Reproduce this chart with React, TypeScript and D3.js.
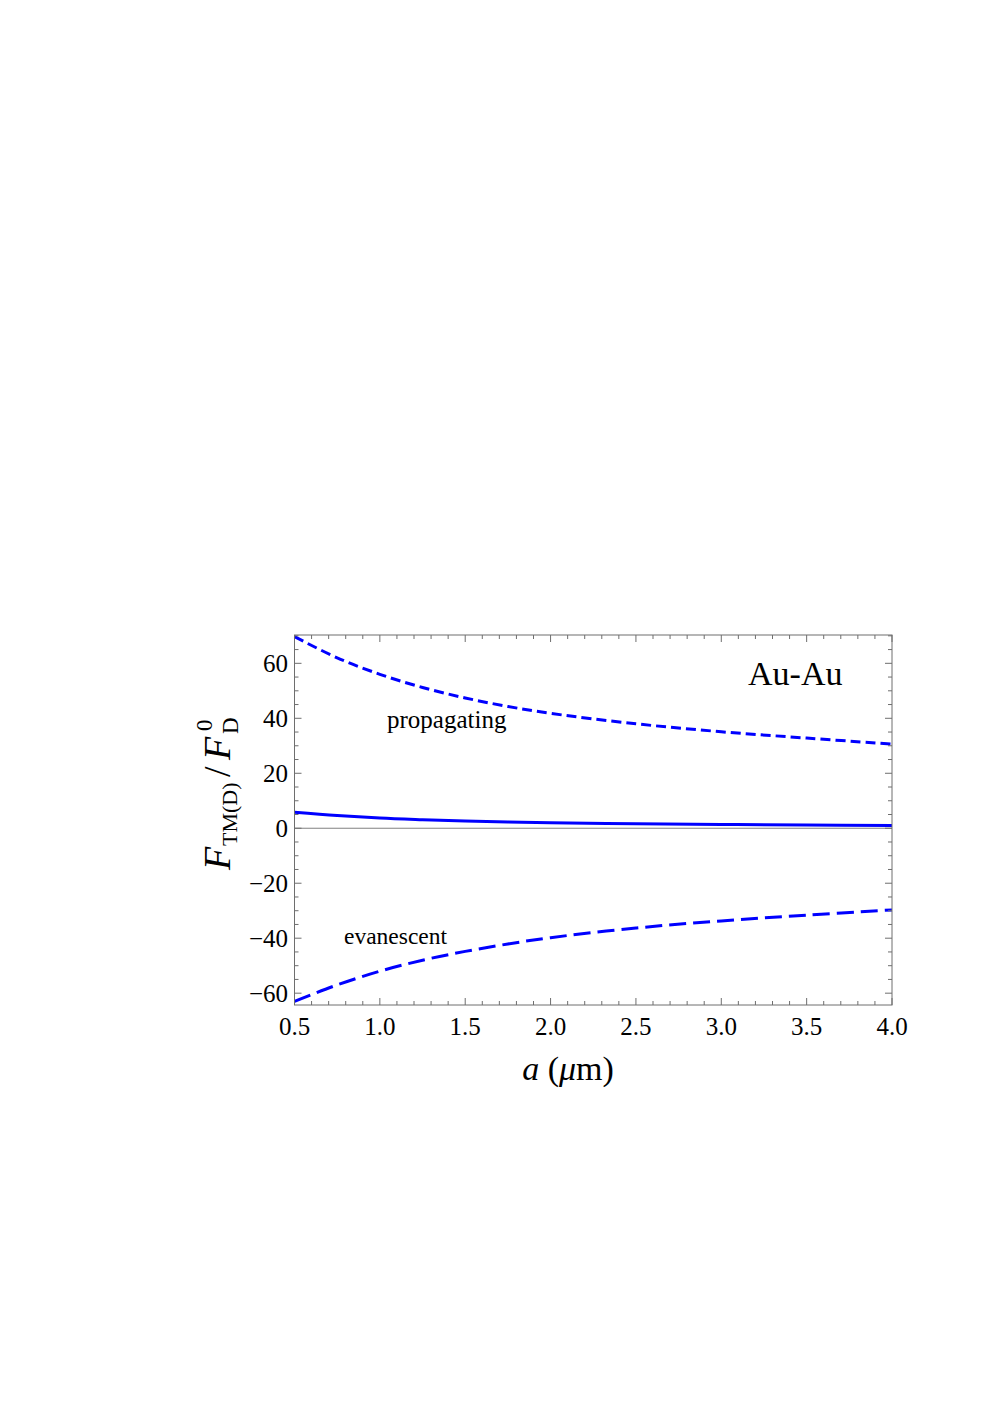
import React from 'react'
import * as d3 from 'd3'

// distance a in micrometres
const aValues = [0.5, 0.75, 1.0, 1.25, 1.5, 1.75, 2.0, 2.5, 3.0, 3.5, 4.0]
// F/F_D^0 for each contribution
const propagating = [69.7, 62.0, 56.0, 51.2, 47.4, 44.3, 41.8, 38.0, 35.1, 32.8, 30.6]
const evanescent = [-63.0, -57.0, -52.0, -48.0, -44.8, -42.1, -39.8, -36.3, -33.7, -31.6, -29.7]
const total = [5.8, 4.6, 3.7, 3.1, 2.6, 2.3, 2.0, 1.65, 1.4, 1.2, 1.0]

const xDomain = [0.5, 4.0]
const yDomain = [-64.3, 70.3]

const W = 996
const H = 1410
const left = 294.5
const right = 892
const top = 635
const bottom = 1005

const serif = '"Liberation Serif", "DejaVu Serif", serif'
const frameColor = '#6e6e6e'
const blue = '#0000ff'

const App = () => {
  const x = d3.scaleLinear().domain(xDomain).range([left, right])
  const y = d3.scaleLinear().domain(yDomain).range([bottom, top])

  const xMajor = x.ticks(7)
  const xMinor = x.ticks(35).filter(t => !xMajor.some(m => Math.abs(m - t) < 1e-9))
  const yMajor = y.ticks(7)
  const yMinor = y.ticks(27).filter(t => !yMajor.some(m => Math.abs(m - t) < 1e-9))

  const line = d3.line<number>()
    .x((d, i) => x(aValues[i]))
    .y(d => y(d))
    .curve(d3.curveCatmullRom.alpha(0.5))

  const fmtX = d3.format('.1f')
  const fmtY = (v: number) => (v < 0 ? '\u2212' + Math.abs(v) : String(v))

  const majorLen = 7
  const minorLen = 4

  return (
    <svg width={W} height={H} style={{ position: 'absolute', left: 0, top: 0 }}>
      <rect width={W} height={H} fill="#fff" />

      {/* zero line */}
      <line x1={left} x2={right} y1={y(0)} y2={y(0)} stroke="#808080" strokeWidth={1} />

      {/* curves */}
      <g fill="none" stroke={blue} strokeWidth={3}>
        <path d={line(propagating) || ''} strokeDasharray="10,5" />
        <path d={line(evanescent) || ''} strokeDasharray="17,7" />
        <path d={line(total) || ''} />
      </g>

      {/* frame ticks */}
      <g stroke={frameColor} strokeWidth={1}>
        {xMajor.map(t => (
          <g key={'xM' + t}>
            <line x1={x(t)} x2={x(t)} y1={bottom} y2={bottom - majorLen} />
            <line x1={x(t)} x2={x(t)} y1={top} y2={top + majorLen} />
          </g>
        ))}
        {xMinor.map(t => (
          <g key={'xm' + t}>
            <line x1={x(t)} x2={x(t)} y1={bottom} y2={bottom - minorLen} />
            <line x1={x(t)} x2={x(t)} y1={top} y2={top + minorLen} />
          </g>
        ))}
        {yMajor.map(t => (
          <g key={'yM' + t}>
            <line x1={left} x2={left + majorLen} y1={y(t)} y2={y(t)} />
            <line x1={right} x2={right - majorLen} y1={y(t)} y2={y(t)} />
          </g>
        ))}
        {yMinor.map(t => (
          <g key={'ym' + t}>
            <line x1={left} x2={left + minorLen} y1={y(t)} y2={y(t)} />
            <line x1={right} x2={right - minorLen} y1={y(t)} y2={y(t)} />
          </g>
        ))}
      </g>
      <rect x={left} y={top} width={right - left} height={bottom - top}
        fill="none" stroke={frameColor} strokeWidth={1} />

      {/* tick labels */}
      <g fontFamily={serif} fontSize={25} fill="#000">
        {xMajor.map(t => (
          <text key={'xl' + t} x={x(t)} y={1035} textAnchor="middle">{fmtX(t)}</text>
        ))}
        {yMajor.map(t => (
          <text key={'yl' + t} x={288} y={y(t)} dy="0.34em" textAnchor="end">{fmtY(t)}</text>
        ))}
      </g>

      {/* annotations */}
      <g fontFamily={serif} fill="#000">
        <text x={748} y={685} fontSize={34}>Au-Au</text>
        <text x={387} y={728} fontSize={25}>propagating</text>
        <text x={344} y={944} fontSize={23.5}>evanescent</text>
      </g>

      {/* x axis title */}
      <text x={568} y={1080} textAnchor="middle" fontFamily={serif} fontSize={34}>
        <tspan fontStyle="italic">a</tspan>
        <tspan> (</tspan>
        <tspan fontStyle="italic">μ</tspan>
        <tspan>m)</tspan>
      </text>

      {/* y axis title */}
      <g transform="translate(230,791) rotate(-90)" fontFamily={serif} fill="#000">
        <text x={-79} y={0} fontSize={38} fontStyle="italic">F</text>
        <text x={-55} y={7} fontSize={22}>TM(D)</text>
        <text x={14} y={0} fontSize={38}>/</text>
        <text x={31} y={0} fontSize={38} fontStyle="italic">F</text>
        <text x={57} y={8} fontSize={23}>D</text>
        <text x={60} y={-18} fontSize={23}>0</text>
      </g>
    </svg>
  )
}

export default App
